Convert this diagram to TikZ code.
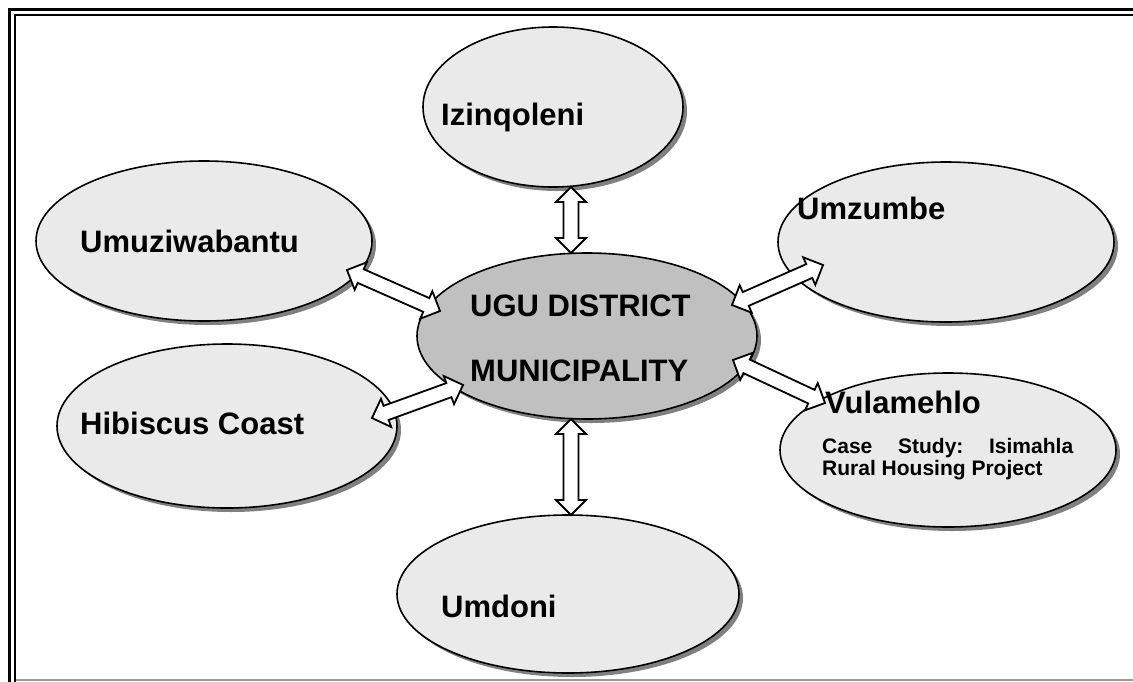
\documentclass[tikz,border=0pt]{standalone}
\usepackage{fontspec}
\setmainfont{Liberation Sans}
\usetikzlibrary{shapes.geometric,shadows,calc}
\definecolor{ellfill}{HTML}{EAEAEA}
\definecolor{centerfill}{HTML}{C0C0C0}
\definecolor{shadowgray}{HTML}{808080}
\tikzset{
  ell/.style={ellipse, draw=black, line width=1.6pt, fill=ellfill, inner sep=0pt,
    drop shadow={shadow xshift=4pt, shadow yshift=-4pt, fill=shadowgray, opacity=1}},
  lbl/.style={anchor=base west, inner sep=0pt, font=\bfseries\fontsize{31}{37}\selectfont},
  smalllbl/.style={anchor=base west, inner sep=0pt, font=\bfseries\fontsize{21}{25}\selectfont},
  barrow/.style={draw=black, fill=white, line width=1.8pt, line join=miter},
}
\newcommand\blockarrow[2]{%
  \draw[barrow] (#1)
    -- ($(#1)!15pt!(#2)!15pt!90:(#2)$)
    -- ($(#1)!15pt!(#2)!7.5pt!90:(#2)$)
    -- ($(#2)!15pt!(#1)!7.5pt!-90:(#1)$)
    -- ($(#2)!15pt!(#1)!15pt!-90:(#1)$)
    -- (#2)
    -- ($(#2)!15pt!(#1)!15pt!90:(#1)$)
    -- ($(#2)!15pt!(#1)!7.5pt!90:(#1)$)
    -- ($(#1)!15pt!(#2)!7.5pt!-90:(#2)$)
    -- ($(#1)!15pt!(#2)!15pt!-90:(#2)$)
    -- cycle;}
\begin{document}
\begin{tikzpicture}[x=1pt,y=-1pt]
\useasboundingbox (0,0) rectangle (1133,681);
% frame
\draw[line width=3pt] (9.5,690) -- (9.5,9.5) -- (1140,9.5);
\draw[line width=2.5pt] (15,690) -- (15,15) -- (1140,15);
\draw[line width=1.5pt, color=gray!80] (16,680) -- (1140,680);
% ellipses
\node[ell, minimum width=260pt, minimum height=160pt] (izi) at (553,107) {};
\node[ell, minimum width=336pt, minimum height=160pt] (umu) at (204,241) {};
\node[ell, minimum width=336pt, minimum height=160pt] (umz) at (946,242) {};
\node[ell, minimum width=340pt, minimum height=164pt] (hib) at (227,426) {};
\node[ell, minimum width=336pt, minimum height=154pt] (vul) at (948,450) {};
\node[ell, minimum width=342pt, minimum height=158pt] (umd) at (568,594) {};
\node[ell, fill=centerfill, minimum width=340pt, minimum height=166pt] (ugu) at (587,336) {};
% texts
\node[lbl] (izit) at (441,125) {Izinqoleni};
\node[lbl] (umut) at (80,252) {Umuziwabantu};
\node[lbl] (umzt) at (797,219) {Umzumbe};
\node[lbl] (ugut1) at (470,316) {UGU DISTRICT};
\node[lbl] (ugut2) at (470,381) {MUNICIPALITY};
\node[lbl] (hibt) at (80,434) {Hibiscus Coast};
\node[lbl] (umdt) at (441,617) {Umdoni};
\node[lbl] (vult) at (825,413) {Vulamehlo};
\node[smalllbl] (vulc1) at (822,453) {\makebox[251pt][l]{Case\hfill Study:\hfill Isimahla}};
\node[smalllbl] (vulc2) at (822,475) {Rural Housing Project};
% arrow end points
\coordinate (a1) at (571,187); \coordinate (a2) at (571,253);
\coordinate (b1) at (571,419); \coordinate (b2) at (571,515);
\coordinate (c1) at (347,270); \coordinate (c2) at (440,311);
\coordinate (d1) at (732,305); \coordinate (d2) at (823,265);
\coordinate (e1) at (733,360); \coordinate (e2) at (825,403);
\coordinate (f1) at (372,418); \coordinate (f2) at (463,385);
\blockarrow{a1}{a2}
\blockarrow{b1}{b2}
\blockarrow{c1}{c2}
\blockarrow{d1}{d2}
\blockarrow{e1}{e2}
\blockarrow{f1}{f2}
\end{tikzpicture}
\end{document}
